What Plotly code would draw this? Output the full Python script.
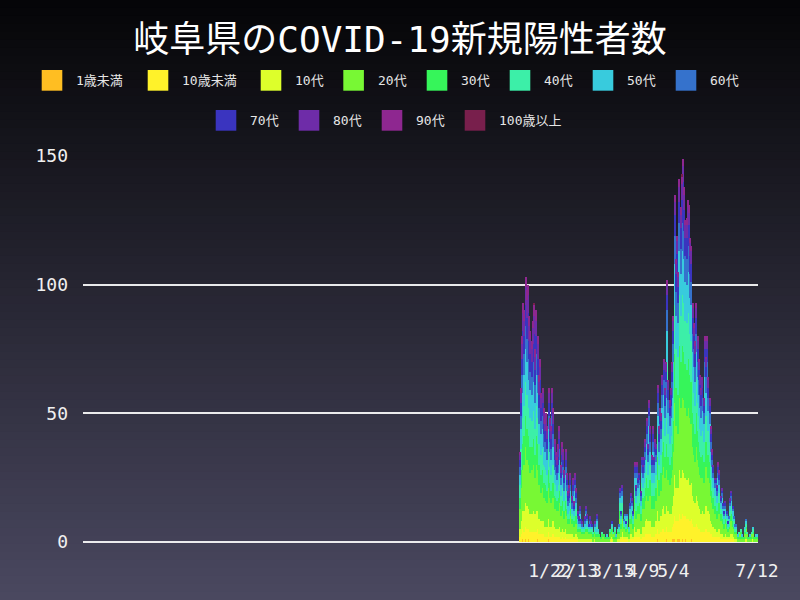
import plotly.graph_objects as go
import pandas as pd

# ---------------- data ----------------
START_DATE = "2020-12-28"
END_DATE = "2021-07-12"

AGE_GROUPS = ["1歳未満", "10歳未満", "10代", "20代", "30代", "40代",
              "50代", "60代", "70代", "80代", "90代", "100歳以上"]

COLORS = ["#FFBE22", "#FFF22A", "#DDFF2B", "#78F834", "#36F55A", "#3CEFA8",
          "#38CBDD", "#3572CC", "#3A34BF", "#6E2CA8", "#8E2790", "#781F4C"]

under1 = [0,0,1,1,0,1,0,1,1,0, 0,0,1,0,0,1,0,0,0,0, 0,0,0,0,1,0,0,0,0,0,
          0,0,0,0,0,0,0,0,0,0, 0,0,0,0,0,0,0,0,0,0, 0,0,0,0,0,0,0,0,0,0,
          0,0,0,0,0,0,0,0,0,0, 0,0,0,0,0,0,0,0,0,0, 0,0,0,0,0,0,0,0,0,0,
          0,0,0,0,0,0,0,0,0,0, 0,0,0,0,0,0,0,0,0,0, 0,0,0,0,1,0,0,1,0,0,
          0,1,1,0,0,0,1,1,1,0, 1,1,1,0,1,1,0,1,0,0, 1,0,1,0,0,1,0,0,0,0,
          0,0,0,0,0,0,0,0,0,0, 0,0,0,0,0,0,0,0,0,0, 0,0,0,0,0,0,0,0,0,0,
          0,0,0,0,0,0,0,0,0,0, 0,0,0,0,0,0,0]

under10 = [2,3,4,5,4,5,5,5,4,4, 4,4,5,4,4,4,3,4,3,3, 3,2,2,2,3,2,2,3,3,2,
           2,2,2,2,1,2,2,1,2,1, 1,1,1,1,1,1,1,1,1,0, 1,0,0,0,0,1,0,0,0,0,
           0,0,0,0,0,0,0,0,0,0, 0,0,0,0,0,0,1,0,0,0, 0,0,0,1,1,2,1,1,1,1,
           0,1,1,1,1,2,2,2,2,2, 1,2,2,2,3,3,3,4,3,2, 3,2,3,3,4,3,4,3,5,5,
           4,5,7,4,4,4,5,6,9,8, 8,7,10,9,10,10,10,9,9,9, 9,8,8,7,6,5,7,6,5,5,
           4,4,4,6,5,6,4,4,3,3, 2,2,2,2,2,2,1,1,1,1, 1,1,1,1,1,1,1,1,0,0,
           0,0,0,0,0,0,0,1,0,0, 0,0,0,0,0,0,0]

teens = [3,5,7,8,8,9,9,9,8,7, 7,8,8,7,8,7,6,6,5,5, 5,4,4,4,5,4,4,5,5,4,
         3,3,3,4,3,4,3,3,3,2, 2,2,2,2,2,1,2,2,1,1, 1,1,1,1,1,1,1,1,1,1,
         1,0,1,0,1,0,0,0,0,0, 0,0,0,0,0,1,1,1,0,1, 0,1,1,3,1,2,1,1,1,1,
         1,2,2,2,1,4,2,4,3,3, 2,4,4,4,5,6,5,7,5,4, 5,4,5,5,7,5,6,6,8,9,
         7,8,12,8,7,7,8,11,16,13, 14,13,17,16,17,18,17,15,15,16, 16,14,14,11,10,9,11,10,9,8,
         7,8,7,10,9,10,8,7,5,4, 4,3,3,2,4,3,2,3,2,1, 2,1,1,1,2,2,2,1,1,1,
         0,1,0,1,0,0,1,1,1,0, 0,0,1,1,0,0,0]

twenties = [8,13,16,18,18,22,18,19,17,16, 17,18,17,14,18,16,13,14,11,13, 9,11,10,9,12,11,9,13,9,7,
            8,7,7,9,6,7,7,5,7,7, 4,4,7,4,6,4,7,4,2,3, 3,3,2,2,3,3,3,2,3,2,
            2,2,2,2,3,2,2,1,2,1, 2,1,1,1,1,2,2,2,1,2, 1,2,2,5,3,5,3,3,2,3,
            2,4,4,5,3,7,5,7,6,6, 5,7,7,7,8,9,8,11,10,7, 10,7,8,8,12,10,12,10,13,15,
            14,14,22,12,11,14,14,17,28,24, 24,21,28,27,28,30,28,27,25,27, 27,26,23,19,18,16,19,16,15,13,
            14,13,12,16,15,16,13,12,10,8, 7,6,6,5,7,6,5,5,4,3, 4,3,2,3,5,5,3,3,2,2,
            1,2,1,2,1,1,2,3,2,1, 1,1,2,2,1,1,1]

thirties = [4,7,10,11,11,12,12,12,11,10, 9,10,11,9,11,10,8,9,7,7, 6,6,6,5,7,6,5,7,6,5,
            4,4,5,5,4,5,4,3,4,3, 2,2,3,2,3,2,3,3,1,1, 2,1,1,1,1,2,1,1,1,1,
            1,1,1,1,1,1,1,1,1,0, 1,1,1,0,1,1,1,0,1,1, 1,1,1,3,2,3,1,2,1,2,
            1,2,3,2,2,4,3,4,3,4, 3,5,4,5,5,7,5,8,6,5, 6,5,5,5,9,6,7,7,9,10,
            8,10,14,9,8,8,10,12,19,15, 17,15,20,18,20,21,19,17,18,19, 18,17,16,13,12,11,13,11,10,9,
            8,9,8,11,10,11,9,8,6,5, 4,3,3,3,4,4,3,3,2,2, 2,2,1,1,2,3,2,1,1,1,
            1,0,1,1,1,1,1,1,0,1, 1,1,0,1,1,1,1]

forties = [5,8,10,12,12,13,13,13,11,11, 10,11,12,10,12,10,8,9,8,8, 7,6,6,6,8,6,6,8,7,5,
           5,4,5,6,4,5,5,4,5,4, 2,3,4,2,3,2,4,3,2,1, 2,1,1,1,1,2,1,1,1,1,
           1,1,1,1,1,1,0,0,1,0, 0,0,0,0,0,1,1,1,0,1, 0,1,1,3,2,3,1,2,1,2,
           1,2,3,2,2,4,3,4,4,4, 3,5,4,5,6,7,5,8,6,5, 6,5,6,5,9,6,7,7,9,10,
           8,10,14,9,8,8,10,12,19,15, 17,15,20,18,20,21,19,17,18,19, 18,16,16,13,12,11,13,11,10,9,
           8,9,8,11,10,11,9,8,6,5, 4,4,4,3,4,4,2,3,2,2, 2,2,1,2,2,3,2,2,1,1,
           0,1,0,1,0,0,1,1,1,0, 0,0,1,1,0,0,0]

fifties = [4,8,10,12,12,13,13,13,11,11, 10,11,12,10,12,10,8,9,8,8, 7,6,7,6,8,6,6,8,7,5,
           4,4,5,6,4,5,5,4,5,3, 3,3,3,2,3,2,3,2,2,1, 2,1,1,1,1,2,2,1,1,1,
           1,0,1,1,2,1,0,0,0,0, 0,0,1,0,0,0,1,0,0,1, 1,0,1,2,1,3,1,1,1,1,
           1,2,2,2,1,4,3,4,3,3, 2,4,4,4,5,6,5,7,5,4, 5,4,5,5,7,5,6,6,8,8,
           7,8,12,8,7,7,8,11,16,13, 14,13,17,16,17,18,17,15,15,16, 16,14,14,11,10,9,11,10,8,8,
           7,8,7,10,9,10,8,7,5,4, 4,3,3,3,4,3,2,2,2,1, 2,1,1,1,2,2,2,1,1,1,
           1,0,0,0,1,0,1,1,0,0, 1,0,0,1,0,1,1]

sixties = [3,5,7,8,8,9,9,9,8,7, 7,8,8,7,8,7,6,6,5,5, 5,4,5,4,5,4,4,5,5,4,
           3,3,3,4,3,3,3,3,3,2, 2,2,2,2,2,1,2,2,1,1, 1,1,1,0,1,1,1,0,1,1,
           0,0,1,0,1,0,0,0,0,0, 0,0,0,0,0,0,0,0,0,0, 0,0,1,2,1,2,1,1,0,1,
           0,1,2,1,1,2,2,2,2,2, 2,3,2,3,3,4,3,4,4,3, 4,3,3,3,5,4,4,4,5,6,
           5,6,8,5,4,5,6,7,11,9, 10,8,11,10,11,12,11,10,10,11, 10,9,9,7,7,6,7,6,6,5,
           5,5,4,6,6,6,5,4,4,3, 2,2,2,2,2,2,1,2,1,1, 1,1,0,1,1,2,1,1,1,1,
           0,0,0,0,0,0,0,1,0,0, 0,0,0,0,0,0,0]

seventies = [3,5,6,7,7,8,8,8,7,7, 6,7,7,6,7,6,5,6,5,5, 4,4,4,4,5,4,4,5,4,3,
             3,3,3,4,2,3,3,2,3,2, 2,2,2,1,2,1,2,2,1,1, 1,1,0,0,1,1,1,1,1,0,
             1,0,0,0,1,0,0,0,0,0, 0,0,0,0,0,0,1,0,0,0, 0,0,0,1,1,1,0,0,1,0,
             0,1,1,1,1,2,1,2,1,2, 1,2,2,2,2,3,2,3,3,2, 3,2,2,2,4,3,3,3,4,4,
             4,4,6,4,3,4,4,5,8,7, 7,6,8,8,9,9,8,7,8,8, 8,7,7,6,5,5,6,5,4,4,
             4,4,3,5,4,5,4,3,3,2, 2,1,1,1,2,2,1,1,1,1, 1,1,1,0,1,1,1,0,0,0,
             0,0,0,0,0,0,0,0,0,0, 0,0,0,0,0,0,0]

eighties = [2,4,6,7,6,7,7,7,6,6, 5,6,7,5,6,6,5,5,4,4, 4,3,4,3,4,3,3,4,4,3,
            2,2,3,3,2,3,3,2,3,2, 1,2,2,1,2,1,2,1,1,1, 1,0,1,0,1,1,1,0,1,1,
            0,0,1,0,1,0,0,0,0,0, 0,0,0,0,0,0,0,0,0,0, 0,0,0,1,0,1,0,0,0,0,
            0,0,1,1,0,1,1,1,1,1, 1,1,1,1,2,2,2,2,2,1, 2,1,2,2,2,2,2,2,3,3,
            2,3,4,3,2,2,3,4,5,4, 5,4,6,5,6,6,6,5,5,5, 5,5,5,4,3,3,4,3,3,3,
            2,3,2,3,3,3,3,2,2,1, 1,1,1,1,1,1,1,1,0,0, 1,0,0,0,1,1,0,0,0,0,
            0,0,0,0,0,0,0,0,0,0, 0,0,0,0,0,0,0]

nineties = [1,2,3,4,4,4,4,4,4,3, 3,3,4,3,4,3,3,3,2,2, 2,2,2,2,2,2,2,2,2,2,
            1,1,2,2,1,2,1,1,1,1, 1,1,1,1,1,1,1,1,0,0, 0,0,0,0,0,0,0,0,0,0,
            0,0,0,0,0,0,0,0,0,0, 0,0,0,0,0,0,0,0,0,0, 0,0,0,0,0,0,0,0,0,0,
            0,0,0,0,0,1,0,1,0,0, 0,0,0,0,1,1,0,1,1,1, 1,0,1,0,1,1,1,1,1,1,
            1,1,2,1,1,1,1,2,3,2, 2,2,3,3,3,3,3,2,3,3, 3,2,2,2,2,2,2,2,1,1,
            1,1,1,2,1,2,1,1,1,1, 0,0,0,0,1,1,0,0,0,0, 0,0,0,0,0,0,0,0,0,0,
            0,0,0,0,0,0,0,0,0,0, 0,0,0,0,0,0,0]

over100 = [0,0,0,0,0,0,0,0,0,0, 0,0,1,0,0,0,0,0,0,0, 0,0,0,0,0,0,0,0,0,0,
           0,0,0,0,0,0,0,0,0,0, 0,0,0,0,0,0,0,0,0,0, 0,0,0,0,0,0,0,0,0,0,
           0,0,0,0,0,0,0,0,0,0, 0,0,0,0,0,0,0,0,0,0, 0,0,0,0,0,0,0,0,0,0,
           0,0,0,0,0,0,0,0,0,0, 0,0,0,0,0,0,0,0,0,0, 0,0,0,0,0,0,0,0,0,0,
           0,0,0,0,0,0,0,0,0,0, 0,0,0,0,1,0,0,0,0,0, 0,0,0,0,0,0,0,0,0,0,
           0,0,0,0,0,0,0,0,0,0, 0,0,0,0,0,0,0,0,0,0, 0,0,0,0,0,0,0,0,0,0,
           0,0,0,0,0,0,0,0,0,0, 0,0,0,0,0,0,0]

SERIES = [under1, under10, teens, twenties, thirties, forties,
          fifties, sixties, seventies, eighties, nineties, over100]

X_RANGE = ["2020-01-02 12:00", "2021-07-12 20:00"]
TICK_DATES = ["2021-01-22", "2021-02-13", "2021-03-15", "2021-04-09", "2021-05-04", "2021-07-12"]
TICK_LABELS = ["1/22", "2/13", "3/15", "4/9", "5/4", "7/12"]
Y_TICKS = [0, 50, 100, 150]

TITLE = "岐阜県のCOVID-19新規陽性者数"

# ---------------- figure ----------------
dates = pd.date_range(START_DATE, END_DATE, freq="D")

W, H = 800, 600
PL, PR, PT, PB = 83, 758, 156, 542
MONO = "DejaVu Sans Mono, Noto Sans CJK JP, sans-serif"


def px_x(px):
    return (px - PL) / (PR - PL)


def px_y(py):
    return (PB - py) / (PB - PT)


fig = go.Figure()
for name, color, vals in zip(AGE_GROUPS, COLORS, SERIES):
    fig.add_trace(go.Bar(
        x=dates, y=vals, name=name,
        marker=dict(color=color, line=dict(width=0)),
        showlegend=False,
    ))

shapes = []
# background vertical gradient (dark top -> grey-violet bottom)
top = (5, 5, 7)
bot = (74, 72, 96)
n_strips = 75
for k in range(n_strips):
    t = (k + 0.5) / n_strips
    c = tuple(int(round(top[j] + (bot[j] - top[j]) * t)) for j in range(3))
    y0 = k * H / n_strips - 0.3
    y1 = (k + 1) * H / n_strips + 0.6
    shapes.append(dict(type="rect", xref="paper", yref="paper", layer="below",
                       x0=px_x(-2), x1=px_x(W + 2), y0=px_y(y1), y1=px_y(y0),
                       fillcolor="rgb(%d,%d,%d)" % c, line=dict(width=0)))

# manual legend
ROW1_X = [41.7, 147.7, 260.7, 343.3, 426.7, 509.7, 592.7, 675.7]
ROW2_X = [215.7, 298.7, 381.7, 464.7]
ROW1_Y, ROW2_Y = 70.0, 110.0
BOX_W, BOX_H, TEXT_DX = 20.6, 20.7, 34.3
positions = [(x, ROW1_Y) for x in ROW1_X] + [(x, ROW2_Y) for x in ROW2_X]
annotations = []
for (bx, by), name, color in zip(positions, AGE_GROUPS, COLORS):
    shapes.append(dict(type="rect", xref="paper", yref="paper", layer="above",
                       x0=px_x(bx), x1=px_x(bx + BOX_W), y0=px_y(by + BOX_H), y1=px_y(by),
                       fillcolor=color, line=dict(width=0)))
    annotations.append(dict(text=name, xref="paper", yref="paper",
                            x=px_x(bx + TEXT_DX - 2), y=px_y(by + BOX_H / 2),
                            xanchor="left", yanchor="middle", showarrow=False,
                            font=dict(family=MONO, size=13, color="#e6e6e6")))

fig.update_layout(
    width=W, height=H,
    margin=dict(l=PL, r=W - PR, t=PT, b=H - PB, pad=0, autoexpand=False),
    paper_bgcolor="#050507",
    plot_bgcolor="rgba(0,0,0,0)",
    barmode="stack",
    bargap=0,
    showlegend=False,
    title=dict(text=TITLE, x=0.5, xref="container", xanchor="center",
               y=1 - 39 / H, yref="container", yanchor="middle", automargin=False,
               font=dict(family=MONO, size=36, color="#ffffff")),
    shapes=shapes,
    annotations=annotations,
    xaxis=dict(type="date", range=X_RANGE, tickmode="array",
               tickvals=TICK_DATES, ticktext=TICK_LABELS, tickangle=0,
               automargin=False,
               showgrid=False, zeroline=False, showline=False, ticks="",
               ticklabelstandoff=16,
               tickfont=dict(family=MONO, size=18, color="#f0f0f0")),
    yaxis=dict(range=[0, 150], tickmode="array", tickvals=Y_TICKS,
               automargin=False,
               showgrid=True, gridcolor="rgba(255,255,255,0.9)", gridwidth=1.5,
               zeroline=True, zerolinecolor="rgba(255,255,255,0.9)", zerolinewidth=1.5,
               showline=False, ticks="", ticklabelstandoff=14,
               tickfont=dict(family=MONO, size=18, color="#f0f0f0")),
)

fig.write_html(
    "out.html",
    config={"displayModeBar": False},
    post_script="document.body.style.margin='0';document.body.style.background='#050507';",
)
